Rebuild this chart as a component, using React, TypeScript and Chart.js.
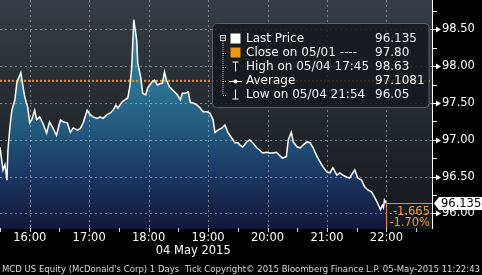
import React, { useEffect, useRef } from 'react';
import { Chart, registerables } from 'chart.js';

Chart.register(...registerables);

// ---- data ----
const SESSION_OPEN = 930; // 15:30 in minutes since midnight
const AXIS_END = 1366; // right edge of the plot (~22:46)

const minutesSinceOpen = [
  0, 3, 5, 7, 8, 10, 12, 15, 17, 18, 21, 23, 25, 28, 30, 32, 35, 37, 40, 43,
  47, 50, 53, 57, 61, 64, 68, 71, 74, 78, 81, 84, 88, 91, 94, 98, 101, 104, 108, 111,
  114, 117, 119, 123, 126, 129, 131, 133, 134, 135, 138, 139, 142, 144, 147, 149, 153, 156, 159, 161,
  164, 166, 168, 171, 174, 179, 182, 184, 187, 190, 192, 195, 199, 202, 205, 209, 212, 215, 217, 220,
  224, 227, 230, 234, 237, 240, 242, 245, 249, 252, 255, 259, 262, 265, 269, 272, 275, 279, 282, 285,
  289, 291, 294, 296, 300, 303, 306, 310, 313, 316, 320, 323, 326, 330, 333, 336, 340, 343, 346, 350,
  353, 356, 358, 361, 365, 368, 371, 375, 378, 381, 384, 386, 387, 388, 390,
];

const lastPrices = [
  96.9, 96.59, 96.66, 96.45, 96.86, 97.17, 97.4, 97.54, 97.77, 97.81, 97.91, 97.74, 97.58, 97.44, 97.23, 97.27, 97.4, 97.27, 97.31, 97.23,
  97.09, 97.24, 97.17, 97.06, 97.27, 97.24, 97.23, 97.1, 97.16, 97.13, 97.15, 97.23, 97.4, 97.34, 97.31, 97.29, 97.31, 97.29, 97.34, 97.36,
  97.4, 97.47, 97.43, 97.51, 97.54, 97.57, 97.72, 97.99, 98.31, 98.63, 98.35, 98.04, 97.85, 97.63, 97.61, 97.7, 97.78, 97.81, 97.74, 97.76,
  97.77, 97.92, 97.81, 97.72, 97.68, 97.61, 97.54, 97.63, 97.63, 97.65, 97.51, 97.5, 97.47, 97.43, 97.38, 97.38, 97.36, 97.27, 97.1, 97.13,
  97.16, 97.2, 97.1, 97.02, 96.96, 96.96, 96.93, 96.9, 96.97, 97.0, 96.96, 96.89, 96.86, 96.82, 96.83, 96.82, 96.82, 96.83, 96.79, 96.75,
  96.77, 97.0, 97.1, 96.97, 96.9, 96.89, 96.93, 96.97, 96.96, 96.89, 96.77, 96.7, 96.63, 96.56, 96.55, 96.62, 96.52, 96.55, 96.52, 96.49,
  96.48, 96.55, 96.59, 96.48, 96.45, 96.36, 96.32, 96.29, 96.22, 96.14, 96.05, 96.11, 96.08, 96.18, 96.135,
];

const previousClose = 97.8;
const yAxisMin = 95.787;
const yAxisMax = 98.898;
const yMinorStep = 0.25;

const legendLabels = ['Last Price', 'Close on 05/01 ----', 'High on 05/04 17:45', 'Average', 'Low on 05/04 21:54'];
const legendValues = ['96.135', '97.80', '98.63', '97.1081', '96.05'];
const changeLabels = ['-1.665', '-1.70%'];
const lastPriceLabel = '96.135';
const dateLabel = '04 May 2015';
const footerText = "MCD US Equity (McDonald's Corp) 1 Days  Tick Copyright\u00A9 2015 Bloomberg Finance L.P. 05-May-2015 11:22:43";

const FONT = '"DejaVu Sans", Verdana, sans-serif';
const ORANGE = '#ec9420';

const fmtTime = (m: number) => {
  const h = Math.floor(m / 60);
  const mm = m % 60;
  return `${h}:${mm < 10 ? '0' : ''}${mm}`;
};
const isMajorY = (v: number) => Math.abs(v * 2 - Math.round(v * 2)) < 1e-6;

const bbgPlugin = {
  id: 'bbgDecor',
  beforeDraw(chart: any) {
    const { ctx, chartArea: a, width, height } = chart;
    ctx.save();
    ctx.fillStyle = '#000';
    ctx.fillRect(0, 0, width, height);
    const g = ctx.createLinearGradient(0, a.top, 0, a.bottom);
    g.addColorStop(0, '#363d44');
    g.addColorStop(1, '#14171a');
    ctx.fillStyle = g;
    ctx.fillRect(a.left, a.top, a.right - a.left, a.bottom - a.top);
    ctx.restore();
  },
  beforeDatasetsDraw(chart: any) {
    const { ctx, chartArea: a } = chart;
    const xs = chart.scales.x;
    const ys = chart.scales.y;
    ctx.save();
    ctx.strokeStyle = 'rgba(200,205,212,0.55)';
    ctx.lineWidth = 1;
    ctx.setLineDash([2, 3]);
    for (const t of ys.ticks) {
      if (!isMajorY(t.value)) continue;
      const py = Math.round(ys.getPixelForValue(t.value)) + 0.5;
      ctx.beginPath();
      ctx.moveTo(a.left, py);
      ctx.lineTo(a.right, py);
      ctx.stroke();
    }
    for (const t of xs.ticks) {
      if (t.value % 60 !== 0) continue;
      const px = Math.round(xs.getPixelForValue(t.value)) + 0.5;
      ctx.beginPath();
      ctx.moveTo(px, a.top);
      ctx.lineTo(px, a.bottom);
      ctx.stroke();
    }
    ctx.restore();
  },
  afterDatasetsDraw(chart: any) {
    const { ctx, chartArea: a, width } = chart;
    const xs = chart.scales.x;
    const ys = chart.scales.y;
    const lastIdx = minutesSinceOpen.length - 1;
    const lastX = Math.round(xs.getPixelForValue(SESSION_OPEN + minutesSinceOpen[lastIdx])) + 0.5;
    const lastY = Math.round(ys.getPixelForValue(lastPrices[lastIdx])) + 0.5;
    ctx.save();

    // last price bracket (orange)
    ctx.strokeStyle = ORANGE;
    ctx.lineWidth = 1;
    ctx.beginPath();
    ctx.moveTo(a.right, lastY);
    ctx.lineTo(lastX, lastY);
    ctx.lineTo(lastX, a.bottom);
    ctx.stroke();
    ctx.font = `11.5px ${FONT}`;
    ctx.fillStyle = '#e99a3a';
    ctx.textAlign = 'right';
    ctx.textBaseline = 'middle';
    ctx.fillText(changeLabels[0], a.right - 2, lastY + 8.5);
    ctx.fillText(changeLabels[1], a.right - 2, lastY + 20);

    // legend box
    const bx = 212.5, by = 23.5, bw = 216.5, bh = 84;
    ctx.beginPath();
    if ((ctx as any).roundRect) (ctx as any).roundRect(bx, by, bw, bh, 4);
    else ctx.rect(bx, by, bw, bh);
    ctx.fillStyle = 'rgba(20,22,26,0.82)';
    ctx.fill();
    ctx.strokeStyle = '#5b6068';
    ctx.stroke();

    const rowY = (i: number) => 38.5 + i * 14;
    // tree
    ctx.strokeStyle = '#c8c8c8';
    ctx.strokeRect(220.5, 35.5, 5, 5);
    ctx.beginPath();
    ctx.moveTo(221.5, 38);
    ctx.lineTo(225, 38);
    ctx.stroke();
    ctx.setLineDash([1, 1]);
    ctx.beginPath();
    ctx.moveTo(223, 41);
    ctx.lineTo(223, rowY(4));
    ctx.stroke();
    for (let i = 1; i < 5; i++) {
      ctx.beginPath();
      ctx.moveTo(223, Math.round(rowY(i)) + 0.5);
      ctx.lineTo(227, Math.round(rowY(i)) + 0.5);
      ctx.stroke();
    }
    ctx.setLineDash([]);
    // icons
    ctx.fillStyle = '#ffffff';
    ctx.fillRect(230.5, rowY(0) - 5, 10, 10);
    ctx.fillStyle = '#f0960f';
    ctx.fillRect(230.5, rowY(1) - 5, 10, 10);
    ctx.strokeStyle = '#ffffff';
    ctx.beginPath();
    ctx.moveTo(232.5, rowY(2) - 4.5);
    ctx.lineTo(238.5, rowY(2) - 4.5);
    ctx.moveTo(235.5, rowY(2) - 4.5);
    ctx.lineTo(235.5, rowY(2) + 5);
    ctx.moveTo(229, Math.round(rowY(3)) + 0.5);
    ctx.lineTo(242, Math.round(rowY(3)) + 0.5);
    ctx.moveTo(235.5, rowY(4) - 5);
    ctx.lineTo(235.5, rowY(4) + 4.5);
    ctx.moveTo(232.5, rowY(4) + 4.5);
    ctx.lineTo(238.5, rowY(4) + 4.5);
    ctx.stroke();
    ctx.fillStyle = '#ffffff';
    ctx.beginPath();
    ctx.arc(235.5, Math.round(rowY(3)) + 0.5, 2, 0, Math.PI * 2);
    ctx.fill();
    // texts
    ctx.font = `12px ${FONT}`;
    ctx.fillStyle = '#f2f2f2';
    ctx.textAlign = 'left';
    ctx.textBaseline = 'middle';
    for (let i = 0; i < legendLabels.length; i++) {
      ctx.fillText(legendLabels[i], 246, rowY(i));
      ctx.fillText(legendValues[i], 375, rowY(i));
    }

    // right axis line, ticks and arrows
    ctx.strokeStyle = '#ffffff';
    ctx.fillStyle = '#ffffff';
    ctx.beginPath();
    ctx.moveTo(a.right + 0.5, 0);
    ctx.lineTo(a.right + 0.5, a.bottom);
    ctx.stroke();
    for (const t of ys.ticks) {
      const py = Math.round(ys.getPixelForValue(t.value)) + 0.5;
      if (isMajorY(t.value)) {
        ctx.beginPath();
        ctx.moveTo(a.right, py);
        ctx.lineTo(a.right + 5, py);
        ctx.stroke();
        ctx.beginPath();
        ctx.moveTo(a.right + 4, py - 3);
        ctx.lineTo(a.right + 9, py);
        ctx.lineTo(a.right + 4, py + 3);
        ctx.closePath();
        ctx.fill();
      } else {
        ctx.beginPath();
        ctx.moveTo(a.right, py);
        ctx.lineTo(a.right + 5, py);
        ctx.stroke();
      }
    }

    // last price tag
    ctx.fillStyle = '#ffffff';
    ctx.beginPath();
    ctx.moveTo(a.right + 2, lastY);
    ctx.lineTo(a.right + 7, lastY - 6.5);
    ctx.lineTo(width, lastY - 6.5);
    ctx.lineTo(width, lastY + 6.5);
    ctx.lineTo(a.right + 7, lastY + 6.5);
    ctx.closePath();
    ctx.fill();
    ctx.fillStyle = '#000000';
    ctx.font = `11.5px ${FONT}`;
    ctx.textAlign = 'left';
    ctx.fillText(lastPriceLabel, a.right + 9, lastY + 0.5);

    // x tick marks
    ctx.strokeStyle = '#d0d0d0';
    for (const t of xs.ticks) {
      const px = Math.round(xs.getPixelForValue(t.value)) + 0.5;
      ctx.beginPath();
      ctx.moveTo(px, a.bottom - 1);
      ctx.lineTo(px, a.bottom + 3);
      ctx.stroke();
    }

    // date label centred on the session
    const midX = xs.getPixelForValue(SESSION_OPEN + minutesSinceOpen[lastIdx] / 2);
    ctx.fillStyle = '#ffffff';
    ctx.font = `11.5px ${FONT}`;
    ctx.textAlign = 'center';
    ctx.textBaseline = 'middle';
    ctx.fillText(dateLabel, midX, 251.5);

    // footer
    ctx.fillStyle = '#d8d8d8';
    ctx.font = `9.5px ${FONT}`;
    ctx.textAlign = 'left';
    ctx.textBaseline = 'alphabetic';
    ctx.fillText(footerText, 2, 271.5, 478);
    ctx.restore();
  },
};

export default function App() {
  const canvasRef = useRef<HTMLCanvasElement | null>(null);

  useEffect(() => {
    document.body.style.margin = '0';
    document.body.style.background = '#000';
    const canvas = canvasRef.current;
    if (!canvas) return;
    const points = minutesSinceOpen.map((m, i) => ({ x: SESSION_OPEN + m, y: lastPrices[i] }));
    const closeLine = [
      { x: SESSION_OPEN, y: previousClose },
      { x: AXIS_END, y: previousClose },
    ];
    const chart = new Chart(canvas, {
      type: 'line',
      data: {
        datasets: [
          {
            label: 'Last Price',
            data: points,
            borderColor: '#ffffff',
            borderWidth: 1.5,
            pointRadius: 0,
            tension: 0,
            fill: 'start',
            order: 0,
            backgroundColor: (c: any) => {
              const ch = c.chart;
              const a = ch.chartArea;
              if (!a) return '#22587c';
              const g = ch.ctx.createLinearGradient(0, a.top, 0, a.bottom);
              g.addColorStop(0, '#3a8fb0');
              g.addColorStop(0.4, '#2a6f8e');
              g.addColorStop(0.57, '#22587c');
              g.addColorStop(0.78, '#1a3560');
              g.addColorStop(1, '#15173a');
              return g;
            },
          },
          {
            label: 'Close on 05/01',
            data: closeLine,
            borderColor: ORANGE,
            borderWidth: 2,
            borderDash: [2, 2],
            pointRadius: 0,
            fill: false,
            order: 1,
          },
        ],
      },
      options: {
        animation: false,
        responsive: false,
        devicePixelRatio: 1,
        layout: { padding: 0 },
        plugins: {
          legend: { display: false },
          tooltip: { enabled: false },
          filler: { drawTime: 'beforeDatasetsDraw' },
        },
        scales: {
          x: {
            type: 'linear',
            min: SESSION_OPEN,
            max: AXIS_END,
            grid: { display: false, drawTicks: false },
            border: { display: false },
            ticks: {
              stepSize: 30,
              autoSkip: false,
              maxRotation: 0,
              includeBounds: false,
              padding: 2,
              color: '#ffffff',
              font: { family: FONT, size: 11.5 },
              callback: (v: any) => (Number(v) % 60 === 0 ? fmtTime(Number(v)) : ''),
            },
            afterFit: (s: any) => {
              s.height = 46;
              s.paddingLeft = 0;
              s.paddingRight = 0;
            },
          },
          y: {
            type: 'linear',
            position: 'right',
            min: yAxisMin,
            max: yAxisMax,
            grid: { display: false, drawTicks: false },
            border: { display: false },
            ticks: {
              stepSize: yMinorStep,
              autoSkip: false,
              includeBounds: false,
              padding: 10,
              color: '#ffffff',
              font: { family: FONT, size: 11.5 },
              callback: (v: any) => (isMajorY(Number(v)) ? Number(v).toFixed(2) : ''),
            },
            afterFit: (s: any) => {
              s.width = 50;
              s.paddingTop = 0;
              s.paddingBottom = 0;
            },
          },
        },
      },
      plugins: [bbgPlugin],
    } as any);
    return () => chart.destroy();
  }, []);

  return (
    <div style={{ position: 'absolute', left: 0, top: 0, width: 482, height: 275, background: '#000' }}>
      <canvas ref={canvasRef} width={482} height={275} style={{ display: 'block', width: 482, height: 275 }} />
    </div>
  );
}
